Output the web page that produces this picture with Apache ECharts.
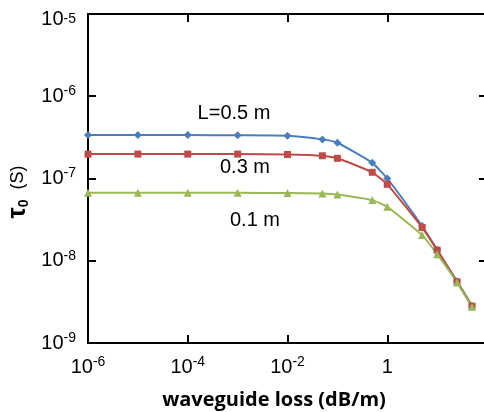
<!DOCTYPE html>
<html>
<head>
<meta charset="utf-8">
<script src="https://cdn.jsdelivr.net/npm/echarts@6/dist/echarts.min.js"></script>
<style>
  html, body { margin: 0; padding: 0; background: #fff; }
  #chart { width: 484px; height: 412px; }
</style>
</head>
<body>
<div id="chart"></div>
<script>
// Waveguide loss (dB/m) sampled on a log grid
const lossValues = [1e-6, 1e-5, 1e-4, 1e-3, 1e-2, 0.05, 0.1, 0.5, 1, 5, 10, 25, 50];

// Decay time tau_0 (s) for three waveguide lengths
const tauL05 = [3.37e-7, 3.37e-7, 3.37e-7, 3.36e-7, 3.32e-7, 2.99e-7, 2.72e-7, 1.55e-7, 1.0e-7, 2.64e-8, 1.36e-8, 5.65e-9, 2.84e-9];
const tauL03 = [1.98e-7, 1.98e-7, 1.98e-7, 1.98e-7, 1.96e-7, 1.89e-7, 1.76e-7, 1.19e-7, 8.5e-8, 2.54e-8, 1.35e-8, 5.54e-9, 2.80e-9];
const tauL01 = [6.7e-8, 6.7e-8, 6.7e-8, 6.7e-8, 6.65e-8, 6.59e-8, 6.41e-8, 5.46e-8, 4.53e-8, 2.05e-8, 1.20e-8, 5.45e-9, 2.75e-9];

const seriesLabels = ['L=0.5 m', '0.3 m', '0.1 m'];
const seriesColors = ['#4A7EBB', '#BE4B48', '#98B954'];
const seriesSymbols = ['diamond', 'rect', 'triangle'];

const xTitle = 'waveguide loss (dB/m)';

const chart = echarts.init(document.getElementById('chart'));

const SANS = '"Liberation Sans", Arial, sans-serif';

// "10" with a superscript exponent; the topmost y label is nudged down a little
function powerLabel(v) {
  const e = Math.round(Math.log10(v));
  if (e === 0) return '{b|1}';
  if (e === -5) return '{bt|10}{st|' + e + '}';
  return '{b|10}{s|' + e + '}';
}

const tickRich = {
  b: { fontSize: 20, fontFamily: SANS, color: '#000', lineHeight: 24 },
  s: { fontSize: 14, fontFamily: SANS, color: '#000', verticalAlign: 'top', lineHeight: 14 },
  bt: { fontSize: 20, fontFamily: SANS, color: '#000', lineHeight: 24, padding: [10, 0, 0, 0] },
  st: { fontSize: 14, fontFamily: SANS, color: '#000', verticalAlign: 'top', lineHeight: 14, padding: [10, 0, 0, 0] }
};

const axisLineStyle = { show: true, lineStyle: { color: '#000', width: 2 } };
const tickStyle = { show: true, inside: true, length: 8, lineStyle: { color: '#000', width: 2 } };

function makeSeries(name, values, color, symbol, size) {
  return {
    name: name,
    type: 'line',
    data: lossValues.map((x, i) => [x, values[i]]),
    symbol: symbol,
    symbolSize: size,
    lineStyle: { color: color, width: 2 },
    itemStyle: { color: color },
    smooth: 0.15,
    animation: false
  };
}

chart.setOption({
  backgroundColor: '#fff',
  animation: false,
  // the right-hand frame edge sits just past the canvas edge
  grid: { left: 88, top: 14, width: 399, height: 329, containLabel: false, outerBoundsMode: 'none' },
  xAxis: [
    {
      type: 'log', logBase: 10, min: 1e-6, max: 1e2, interval: 2,
      position: 'bottom',
      axisLine: axisLineStyle, axisTick: tickStyle, splitLine: { show: false },
      axisLabel: {
        margin: 12,
        formatter: v => (v > 10 ? '' : powerLabel(v)),
        rich: tickRich
      }
    },
    {
      type: 'log', logBase: 10, min: 1e-6, max: 1e2, interval: 2,
      position: 'top',
      axisLine: axisLineStyle, axisTick: tickStyle, splitLine: { show: false },
      axisLabel: { show: false }
    }
  ],
  yAxis: [
    {
      type: 'log', logBase: 10, min: 1e-9, max: 1e-5, interval: 1,
      position: 'left',
      axisLine: axisLineStyle, axisTick: tickStyle, splitLine: { show: false },
      axisLabel: { margin: 12, formatter: powerLabel, rich: tickRich }
    },
    {
      type: 'log', logBase: 10, min: 1e-9, max: 1e-5, interval: 1,
      position: 'right',
      axisLine: axisLineStyle, axisTick: tickStyle, splitLine: { show: false },
      axisLabel: { show: false }
    }
  ],
  series: [
    makeSeries(seriesLabels[0], tauL05, seriesColors[0], seriesSymbols[0], 8),
    makeSeries(seriesLabels[1], tauL03, seriesColors[1], seriesSymbols[1], 7),
    makeSeries(seriesLabels[2], tauL01, seriesColors[2], seriesSymbols[2], 8)
  ],
  graphic: [
    {
      type: 'text', x: 234, y: 113,
      style: { text: seriesLabels[0], font: '20px ' + SANS, fill: '#000', align: 'center', verticalAlign: 'middle' }
    },
    {
      type: 'text', x: 245, y: 167,
      style: { text: seriesLabels[1], font: '20px ' + SANS, fill: '#000', align: 'center', verticalAlign: 'middle' }
    },
    {
      type: 'text', x: 255, y: 220,
      style: { text: seriesLabels[2], font: '20px ' + SANS, fill: '#000', align: 'center', verticalAlign: 'middle' }
    },
    {
      type: 'text', x: 274, y: 400,
      style: { text: xTitle, font: 'bold 20px "Open Sans", sans-serif', fill: '#000', align: 'center', verticalAlign: 'middle' }
    },
    {
      type: 'text', x: 18, y: 192, rotation: Math.PI / 2,
      style: {
        text: '{t|τ}{s|0}{r|  (S)}',
        align: 'center', verticalAlign: 'middle',
        rich: {
          t: { fontSize: 25, fontWeight: 'bold', fontFamily: SANS, fill: '#000', lineHeight: 26 },
          s: { fontSize: 14, fontWeight: 'bold', fontFamily: SANS, fill: '#000', verticalAlign: 'bottom', lineHeight: 14 },
          r: { fontSize: 18, fontFamily: SANS, fill: '#000', lineHeight: 26 }
        }
      }
    }
  ]
});
</script>
</body>
</html>
